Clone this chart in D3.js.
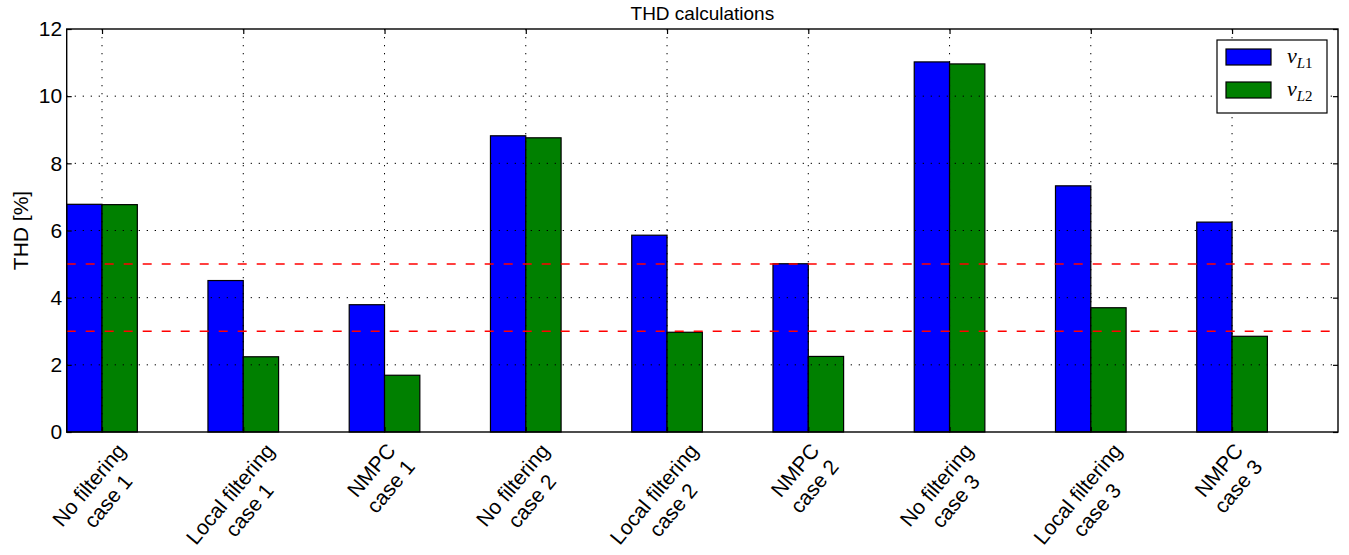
<!DOCTYPE html>
<html>
<head>
<meta charset="utf-8">
<script src="https://cdn.jsdelivr.net/npm/d3@7.9.0/dist/d3.min.js"></script>
<style>
  body { margin: 0; background: #fff; }
  text { font-family: "Liberation Sans", Arial, Helvetica, sans-serif; fill: #000; }
</style>
</head>
<body>
<svg id="chart" width="1349" height="555"></svg>
<script>
// THD values
const categories = [
  'No filtering\ncase 1', 'Local filtering\ncase 1', 'NMPC\ncase 1',
  'No filtering\ncase 2', 'Local filtering\ncase 2', 'NMPC\ncase 2',
  'No filtering\ncase 3', 'Local filtering\ncase 3', 'NMPC\ncase 3'
];
const vL1 = [6.78, 4.51, 3.79, 8.82, 5.86, 5.01, 11.02, 7.33, 6.25];
const vL2 = [6.77, 2.24, 1.69, 8.76, 2.97, 2.25, 10.96, 3.70, 2.85];
const limits = [5, 3];
const yTicks = [0, 2, 4, 6, 8, 10, 12];
const seriesNames = ['L1', 'L2'];
const seriesColors = ['#0000ff', '#008000'];

const svg = d3.select('#chart');
const plotL = 66.7, plotR = 1338, plotT = 29, plotB = 432;
const barW = 0.25;

let x = d3.scaleLinear().domain([0, categories.length]).range([plotL, plotR]);
let y = d3.scaleLinear().domain([0, 12]).range([plotB, plotT]);

// bars
[vL1, vL2].forEach((vals, s) => {
  svg.append('g')
    .selectAll('rect')
    .data(vals)
    .join('rect')
    .attr('x', (d, i) => x(i + s * barW))
    .attr('y', d => y(d))
    .attr('width', x(barW) - x(0))
    .attr('height', d => y(0) - y(d))
    .attr('fill', seriesColors[s])
    .attr('stroke', '#000')
    .attr('stroke-width', 1.2);
});

// grid (drawn over the bars, like the original)
const tickPos = categories.map((c, i) => i + barW);
const grid = svg.append('g')
  .attr('stroke', '#000')
  .attr('stroke-width', 1)
  .attr('stroke-dasharray', '1.3,6.7');
grid.selectAll('.gy')
  .data(yTicks.slice(1, -1))
  .join('line')
  .attr('x1', plotL).attr('x2', plotR)
  .attr('y1', d => y(d)).attr('y2', d => y(d));
grid.selectAll('.gx')
  .data(tickPos)
  .join('line')
  .attr('x1', d => x(d)).attr('x2', d => x(d))
  .attr('y1', plotT).attr('y2', plotB);

// limit lines
svg.append('g')
  .selectAll('line')
  .data(limits)
  .join('line')
  .attr('x1', plotL).attr('x2', plotR)
  .attr('y1', d => y(d)).attr('y2', d => y(d))
  .attr('stroke', '#ff0000')
  .attr('stroke-width', 1.5)
  .attr('stroke-dasharray', '9,10');

// axes with inward ticks on all four sides
const yAxisL = d3.axisLeft(y).tickValues(yTicks).tickSizeInner(-5).tickSizeOuter(0).tickPadding(4.5);
const gy = svg.append('g').attr('transform', `translate(${plotL},0)`).call(yAxisL);
gy.select('.domain').remove();
gy.selectAll('text').style('font-size', '21px').attr('fill', '#000');
gy.selectAll('line').attr('stroke-width', 1.2);

const yAxisR = d3.axisRight(y).tickValues(yTicks).tickSizeInner(-5).tickSizeOuter(0).tickFormat('');
const gyr = svg.append('g').attr('transform', `translate(${plotR},0)`).call(yAxisR);
gyr.select('.domain').remove();
gyr.selectAll('line').attr('stroke-width', 1.2);

const xAxisB = d3.axisBottom(x).tickValues(tickPos).tickSizeInner(-5).tickSizeOuter(0).tickFormat('');
const gxb = svg.append('g').attr('transform', `translate(0,${plotB})`).call(xAxisB);
gxb.select('.domain').remove();
gxb.selectAll('line').attr('stroke-width', 1.2);

const xAxisT = d3.axisTop(x).tickValues(tickPos).tickSizeInner(-5).tickSizeOuter(0).tickFormat('');
const gxt = svg.append('g').attr('transform', `translate(0,${plotT})`).call(xAxisT);
gxt.select('.domain').remove();
gxt.selectAll('line').attr('stroke-width', 1.2);

// frame
svg.append('rect')
  .attr('x', plotL).attr('y', plotT)
  .attr('width', plotR - plotL).attr('height', plotB - plotT)
  .attr('fill', 'none')
  .attr('stroke', '#000')
  .attr('stroke-width', 1.4);

// rotated category labels: two centred lines, rotated bbox centred near the tick
const fs = 21, lineH = 25, labelTop = 439, angle = 50;
const cosA = Math.cos(angle * Math.PI / 180), sinA = Math.sin(angle * Math.PI / 180);
categories.forEach((c, i) => {
  const lines = c.split('\n');
  const g = svg.append('g');
  const texts = lines.map((t, k) => g.append('text')
    .attr('y', 19 + k * lineH)
    .attr('text-anchor', 'middle')
    .style('font-size', fs + 'px')
    .text(t));
  const W = d3.max(texts, t => t.node().getComputedTextLength());
  const H = lines.length * lineH;
  texts.forEach(t => t.attr('x', W / 2));
  const tx = x(tickPos[i]) - 3 - (W * cosA + H * sinA) / 2;
  const ty = labelTop + W * sinA;
  g.attr('transform', `translate(${tx},${ty}) rotate(${-angle})`);
});

// title and y label
svg.append('text')
  .attr('x', (plotL + plotR) / 2).attr('y', 20)
  .attr('text-anchor', 'middle')
  .style('font-size', '19px')
  .text('THD calculations');

svg.append('text')
  .attr('transform', `translate(28,${(plotT + plotB) / 2}) rotate(-90)`)
  .attr('text-anchor', 'middle')
  .style('font-size', '21px')
  .text('THD [%]');

// legend
const lg = svg.append('g').attr('transform', 'translate(1217,40)');
lg.append('rect')
  .attr('width', 110).attr('height', 73)
  .attr('fill', '#fff').attr('stroke', '#000').attr('stroke-width', 1.2);
seriesNames.forEach((n, s) => {
  lg.append('rect')
    .attr('x', 9).attr('y', 9 + s * 33)
    .attr('width', 45).attr('height', 16)
    .attr('fill', seriesColors[s])
    .attr('stroke', '#000').attr('stroke-width', 1.2);
  const t = lg.append('text')
    .attr('x', 70).attr('y', 23 + s * 33)
    .style('font-family', '"Liberation Serif", "DejaVu Serif", serif')
    .style('font-size', '22px');
  t.append('tspan').style('font-style', 'italic').text('v');
  t.append('tspan').attr('dy', 5).style('font-size', '15px').style('font-style', 'italic').text(n[0]);
  t.append('tspan').style('font-size', '15px').text(n[1]);
});
</script>
</body>
</html>
